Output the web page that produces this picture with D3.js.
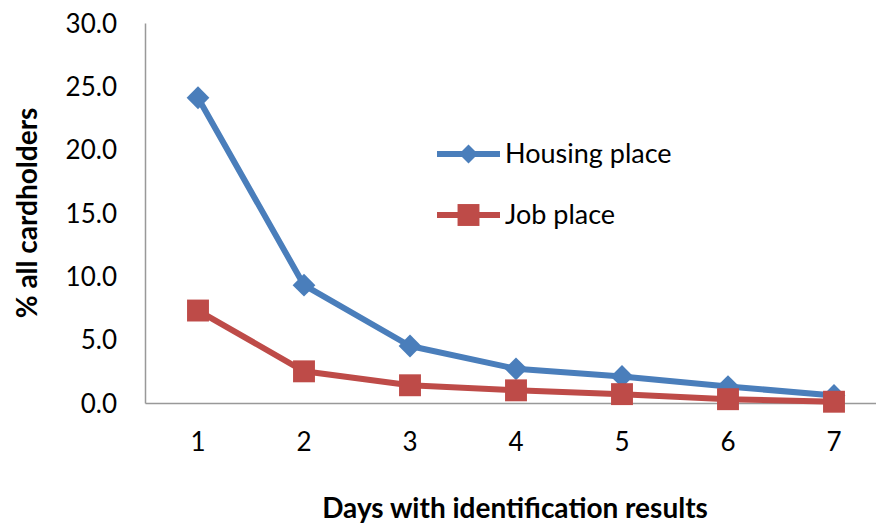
<!DOCTYPE html>
<html>
<head>
<meta charset="utf-8">
<script src="https://cdn.jsdelivr.net/npm/d3@7"></script>
<style>
  body { margin: 0; background: #fff; }
  text { font-family: Lato, "Open Sans", sans-serif; fill: #000; }
</style>
</head>
<body>
<svg id="chart" width="876" height="526"></svg>
<script>
var days = ["1", "2", "3", "4", "5", "6", "7"];
var housing = [24.1, 9.3, 4.5, 2.7, 2.1, 1.3, 0.6];
var job = [7.3, 2.5, 1.4, 1.0, 0.7, 0.3, 0.1];
var yTicks = [0, 5, 10, 15, 20, 25, 30];
var seriesNames = ["Housing place", "Job place"];

var svg = d3.select("#chart");
var plotLeft = 145, plotRight = 887, plotTop = 23, plotBottom = 403;

var x = d3.scaleBand()
          .domain(days)
          .range([plotLeft, plotRight]);

var y = d3.scaleLinear()
          .domain([0, 30])
          .range([plotBottom, plotTop]);

// axes
svg.append("g")
    .attr("transform", "translate(0," + plotBottom + ")")
    .call(d3.axisBottom(x).tickSize(0).tickPadding(30))
    .call(g => g.select(".domain").attr("stroke", "#999").attr("stroke-width", 1.5))
    .selectAll("text")
      .attr("font-size", 26)
      .style("font-family", "Lato, sans-serif");

svg.append("g")
    .attr("transform", "translate(" + plotLeft + ",0)")
    .call(d3.axisLeft(y).tickValues(yTicks).tickSize(0).tickPadding(28)
            .tickFormat(d3.format(".1f")))
    .call(g => g.select(".domain").attr("stroke", "#999").attr("stroke-width", 1.5))
    .selectAll("text")
      .attr("font-size", 26)
      .attr("dy", "0.35em")
      .style("font-family", "Lato, sans-serif");

// axis titles
svg.append("text")
    .attr("x", 515)
    .attr("y", 518)
    .attr("font-size", 28)
    .attr("font-weight", "bold")
    .style("text-anchor", "middle")
    .text("Days with identification results");

svg.append("text")
    .attr("transform", "translate(37,213) rotate(-90)")
    .attr("font-size", 28)
    .attr("font-weight", "bold")
    .style("text-anchor", "middle")
    .text("% all cardholders");

var line = d3.line()
             .x((d, i) => x(days[i]) + x.bandwidth() / 2)
             .y(d => y(d));

var colors = ["#4A7EBB", "#BE4B48"];
var symbols = [d3.symbolDiamond, d3.symbolSquare];
var sizes = [150, 480];
// d3's diamond is narrow; stretch it so it is as wide as it is tall
var stretch = [" scale(1.73,1)", ""];

[housing, job].forEach((data, k) => {
  svg.append("path")
      .datum(data)
      .attr("fill", "none")
      .attr("stroke", colors[k])
      .attr("stroke-width", 6)
      .attr("stroke-linejoin", "round")
      .attr("d", line);

  svg.selectAll(".pt" + k)
      .data(data)
    .enter()
    .append("path")
      .attr("class", "pt" + k)
      .attr("transform", (d, i) =>
        "translate(" + (x(days[i]) + x.bandwidth() / 2) + "," + y(d) + ")" + stretch[k])
      .attr("d", d3.symbol().type(symbols[k]).size(sizes[k]))
      .attr("fill", colors[k]);
});

// legend
var legend = svg.append("g");
seriesNames.forEach((name, k) => {
  var ly = 154 + k * 61;
  legend.append("line")
      .attr("x1", 437).attr("x2", 500)
      .attr("y1", ly).attr("y2", ly)
      .attr("stroke", colors[k])
      .attr("stroke-width", 6);
  legend.append("path")
      .attr("transform", "translate(468.5," + ly + ")" + stretch[k])
      .attr("d", d3.symbol().type(symbols[k]).size(k === 0 ? 105 : 480))
      .attr("fill", colors[k]);
  legend.append("text")
      .attr("x", 505)
      .attr("y", ly)
      .attr("dy", "0.35em")
      .attr("font-size", 27)
      .text(name);
});
</script>
</body>
</html>
